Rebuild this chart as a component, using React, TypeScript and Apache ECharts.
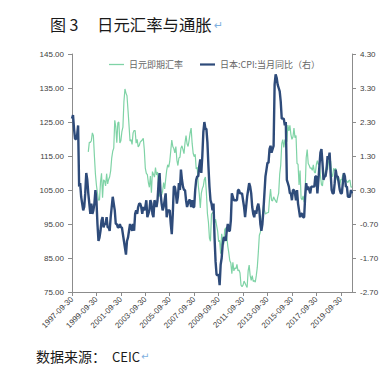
import React, { useEffect, useRef } from "react";
import * as echarts from "echarts";

// First category is 1997-09-30, monthly month-end dates
const startYear = 1997;
const startMonth = 9;
const monthCount = 276; // 1997-09 .. 2020-08
const fxStartIndex = 16; // USD/JPY series starts 1999-01

const seriesNames = ["日元即期汇率", "日本:CPI:当月同比（右）"];

// USD/JPY spot, monthly, 1999-01 .. 2020-08
const usdJpy = [
  116.2, 119.0, 119.0, 119.5, 121.8, 121.0, 115.0, 109.7, 106.4, 104.1, 102.0, 102.1,
  107.3, 109.9, 102.7, 108.0, 107.7, 106.2, 109.8, 106.8, 108.1, 108.9, 110.7, 114.4,
  116.4, 117.3, 125.5, 123.6, 118.9, 124.7, 125.0, 118.8, 119.5, 122.2, 123.5, 131.0,
  134.7, 133.5, 132.7, 128.5, 124.0, 119.4, 119.8, 118.4, 121.8, 122.5, 122.5, 118.8,
  119.9, 117.7, 118.1, 119.1, 119.4, 119.7, 120.2, 116.9, 111.4, 109.9, 109.5, 107.2,
  105.8, 109.1, 104.2, 110.4, 109.6, 108.8, 111.6, 109.4, 110.3, 106.0, 103.1, 104.1,
  103.6, 104.7, 107.2, 105.3, 108.1, 110.8, 112.4, 111.7, 113.4, 116.5, 119.7, 117.8,
  117.2, 115.9, 117.8, 113.8, 112.2, 114.4, 114.6, 117.3, 118.0, 116.9, 115.7, 118.9,
  121.0, 118.6, 117.8, 119.6, 121.8, 123.2, 118.7, 115.8, 114.8, 115.5, 111.2, 111.7,
  106.4, 103.8, 99.7, 104.0, 105.4, 106.2, 108.1, 108.8, 104.1, 98.1, 95.5, 90.8,
  89.9, 97.9, 98.3, 98.5, 95.3, 96.4, 94.6, 93.0, 89.8, 90.2, 86.3, 92.1,
  90.3, 89.0, 93.4, 93.9, 91.3, 88.5, 86.5, 84.2, 83.5, 80.4, 83.7, 81.2,
  82.1, 81.8, 83.1, 81.2, 81.5, 80.6, 77.0, 76.6, 77.0, 78.2, 77.6, 76.9,
  76.3, 81.2, 82.9, 79.8, 78.4, 79.8, 78.1, 78.4, 77.9, 79.8, 82.3, 86.7,
  91.7, 92.6, 94.2, 97.5, 100.5, 99.1, 97.9, 98.2, 98.3, 98.4, 102.4, 105.3,
  102.0, 101.8, 103.0, 102.3, 101.8, 101.3, 102.8, 104.1, 109.7, 112.3, 118.6, 119.8,
  117.5, 119.6, 120.1, 119.2, 124.1, 122.4, 124.0, 121.3, 119.9, 120.6, 123.2, 120.4,
  121.0, 112.8, 112.6, 106.5, 110.7, 102.6, 102.1, 103.3, 101.4, 104.9, 114.5, 116.9,
  112.8, 112.2, 111.4, 111.5, 110.8, 112.4, 110.3, 110.0, 112.5, 113.6, 112.5, 112.7,
  109.2, 106.6, 106.2, 109.3, 108.8, 110.7, 111.9, 111.0, 113.7, 112.9, 113.5, 109.7,
  108.9, 111.4, 110.7, 111.4, 108.3, 107.8, 108.7, 106.3, 108.1, 108.0, 109.5, 108.6,
  108.4, 107.9, 107.5, 107.2, 107.8, 107.9, 105.8, 105.9,
];

// Japan CPI YoY (%), monthly, 1997-09 .. 2020-08
const japanCpi = [
  2.4, 2.5, 2.1, 1.8,
  1.8, 1.9, 2.2, 0.4, 0.5, 0.1, -0.1, -0.3, -0.2, 0.2, 0.8, 0.6,
  0.2, -0.1, -0.4, -0.1, -0.4, -0.3, -0.1, 0.3, 0.0, -0.7, -1.2, -1.1,
  -0.9, -0.6, -0.5, -0.8, -0.7, -0.7, -0.5, -0.8, -0.8, -0.9, -0.5, -0.2,
  0.1, -0.1, -0.3, -0.7, -0.7, -0.8, -0.8, -0.7, -0.8, -0.8, -1.0, -1.2,
  -1.4, -1.6, -1.2, -1.1, -0.9, -0.7, -0.8, -0.9, -0.7, -0.9, -0.4, -0.3,
  -0.4, -0.2, -0.1, -0.1, -0.2, -0.4, -0.2, -0.3, -0.2, 0.0, -0.5, -0.4,
  -0.3, 0.0, -0.1, -0.4, -0.5, 0.0, -0.1, -0.2, 0.0, 0.5, 0.8, 0.2,
  -0.1, -0.3, -0.2, 0.0, 0.2, -0.5, -0.3, -0.3, -0.3, -0.7, -1.0, -0.4,
  0.4, 0.4, 0.2, -0.1, 0.1, 0.5, 0.3, 0.9, 0.6, 0.4, 0.3, 0.3,
  0.0, -0.2, -0.1, 0.0, 0.0, -0.2, 0.0, -0.2, -0.2, 0.3, 0.6, 0.7,
  0.7, 1.0, 1.2, 0.8, 1.3, 2.0, 2.3, 2.1, 2.1, 1.7, 1.0, 0.4,
  0.0, -0.1, -0.3, -0.1, -1.1, -1.8, -2.2, -2.2, -2.2, -2.5, -1.9, -1.7,
  -1.3, -1.1, -1.1, -1.2, -0.9, -0.7, -0.9, -0.9, -0.6, 0.2, 0.1, 0.0,
  0.0, 0.0, 0.0, 0.3, 0.3, 0.2, 0.2, 0.2, 0.0, -0.2, -0.5, -0.2,
  0.1, 0.3, 0.5, 0.4, 0.2, -0.2, -0.4, -0.5, -0.3, -0.4, -0.2, -0.1,
  -0.3, -0.7, -0.9, -0.7, -0.3, 0.2, 0.7, 0.9, 1.1, 1.1, 1.5, 1.6,
  1.4, 1.5, 1.6, 3.4, 3.7, 3.6, 3.4, 3.3, 3.2, 2.9, 2.4, 2.4,
  2.4, 2.2, 2.3, 0.6, 0.5, 0.4, 0.2, 0.2, 0.0, 0.3, 0.3, 0.2,
  0.0, 0.3, -0.1, -0.3, -0.5, -0.4, -0.4, -0.5, -0.5, 0.1, 0.5, 0.3,
  0.4, 0.3, 0.2, 0.4, 0.4, 0.4, 0.4, 0.7, 0.7, 0.2, 0.6, 1.0,
  1.4, 1.5, 1.1, 0.6, 0.7, 0.7, 0.9, 1.3, 1.2, 1.4, 0.8, 0.3,
  0.2, 0.2, 0.5, 0.9, 0.7, 0.7, 0.5, 0.3, 0.2, 0.2, 0.5, 0.8,
  0.7, 0.4, 0.4, 0.1, 0.1, 0.1, 0.3, 0.2,
];

function monthEnd(y: number, m: number): string {
  const d = new Date(Date.UTC(y, m, 0)).getUTCDate();
  return `${y}-${String(m).padStart(2, "0")}-${String(d).padStart(2, "0")}`;
}

function buildCategories(): string[] {
  const out: string[] = [];
  let y = startYear;
  let m = startMonth;
  for (let i = 0; i < monthCount; i++) {
    out.push(monthEnd(y, m));
    m++;
    if (m > 12) {
      m = 1;
      y++;
    }
  }
  return out;
}

const GREEN = "#7fd3a6";
const BLUE = "#2e4b7a";
const AXIS = "#8c8c8c";
const LABEL = "#404040";
const CJK = "'Noto Sans CJK SC', 'Noto Sans', sans-serif";
const LAT = "'Liberation Sans', Arial, sans-serif";

export default function App() {
  const ref = useRef<HTMLDivElement>(null);

  useEffect(() => {
    if (!ref.current) return;
    const chart = echarts.init(ref.current, undefined, { renderer: "svg" });
    const categories = buildCategories();
    const fxData: (number | null)[] = categories.map((_, i) =>
      i >= fxStartIndex && i - fxStartIndex < usdJpy.length ? usdJpy[i - fxStartIndex] : null
    );
    const cpiData = categories.map((_, i) => (i < japanCpi.length ? japanCpi[i] : null));

    chart.setOption({
      animation: false,
      backgroundColor: "#ffffff",
      textStyle: { fontFamily: LAT },
      grid: { left: 72, right: 31, top: 54, bottom: 85, containLabel: false },
      legend: {
        top: 55,
        left: 104,
        itemWidth: 15,
        itemHeight: 8,
        itemGap: 17,
        symbolKeepAspect: true,
        textStyle: { fontSize: 9, color: "#666666", fontFamily: CJK },
        data: [
          { name: seriesNames[0], icon: "path://M0,0H15V1.3H0Z" },
          { name: seriesNames[1], icon: "path://M0,0H15V2.2H0Z" },
        ],
      },
      xAxis: {
        type: "category",
        data: categories,
        boundaryGap: false,
        axisLine: { show: true, onZero: false, lineStyle: { color: AXIS, width: 1 } },
        axisTick: { show: true, interval: 23, length: 4, lineStyle: { color: AXIS } },
        axisLabel: {
          interval: 23,
          rotate: 45,
          fontSize: 8,
          color: LABEL,
          margin: 6,
          fontFamily: LAT,
        },
        splitLine: { show: false },
      },
      yAxis: [
        {
          type: "value",
          position: "left",
          min: 75,
          max: 145,
          interval: 10,
          axisLine: { show: true, onZero: false, lineStyle: { color: AXIS } },
          axisTick: { show: true, length: 4, lineStyle: { color: AXIS } },
          splitLine: { show: false },
          axisLabel: {
            fontSize: 8,
            color: LABEL,
            margin: 8,
            formatter: (v: number) => v.toFixed(2),
          },
        },
        {
          type: "value",
          position: "right",
          min: -2.7,
          max: 4.3,
          interval: 1,
          axisLine: { show: true, onZero: false, lineStyle: { color: AXIS } },
          axisTick: { show: true, length: 4, lineStyle: { color: AXIS } },
          splitLine: { show: false },
          axisLabel: {
            fontSize: 8,
            color: LABEL,
            margin: 8,
            formatter: (v: number) => v.toFixed(2),
          },
        },
      ],
      series: [
        {
          name: seriesNames[0],
          type: "line",
          yAxisIndex: 0,
          data: fxData,
          symbol: "none",
          showSymbol: false,
          connectNulls: false,
          lineStyle: { color: GREEN, width: 1.2 },
          itemStyle: { color: GREEN },
          z: 2,
        },
        {
          name: seriesNames[1],
          type: "line",
          yAxisIndex: 1,
          data: cpiData,
          symbol: "none",
          showSymbol: false,
          lineStyle: { color: BLUE, width: 2.4 },
          itemStyle: { color: BLUE },
          z: 3,
        },
      ],
      graphic: [
        {
          type: "text",
          left: 50,
          top: 16,
          style: { text: "图 3", fontSize: 16, fontFamily: CJK, fill: "#1a1a1a" },
        },
        {
          type: "text",
          left: 97,
          top: 16,
          style: { text: "日元汇率与通胀", fontSize: 16.4, fontFamily: CJK, fill: "#1a1a1a" },
        },
        {
          type: "text",
          left: 214,
          top: 20,
          style: { text: "↵", fontSize: 11, fontFamily: "'DejaVu Sans', sans-serif", fill: "#7fb0e0" },
        },
        {
          type: "text",
          left: 36,
          top: 349,
          style: { text: "数据来源：", fontSize: 14, fontFamily: CJK, fill: "#1a1a1a" },
        },
        {
          type: "text",
          left: 112,
          top: 350,
          style: { text: "CEIC", fontSize: 13, fontFamily: CJK, fill: "#1a1a1a" },
        },
        {
          type: "text",
          left: 141,
          top: 351,
          style: { text: "↵", fontSize: 10, fontFamily: "'DejaVu Sans', sans-serif", fill: "#7fb0e0" },
        },
      ],
    });

    return () => chart.dispose();
  }, []);

  return (
    <div
      ref={ref}
      style={{ position: "absolute", left: 0, top: 0, width: 383, height: 377, background: "#fff" }}
    />
  );
}
